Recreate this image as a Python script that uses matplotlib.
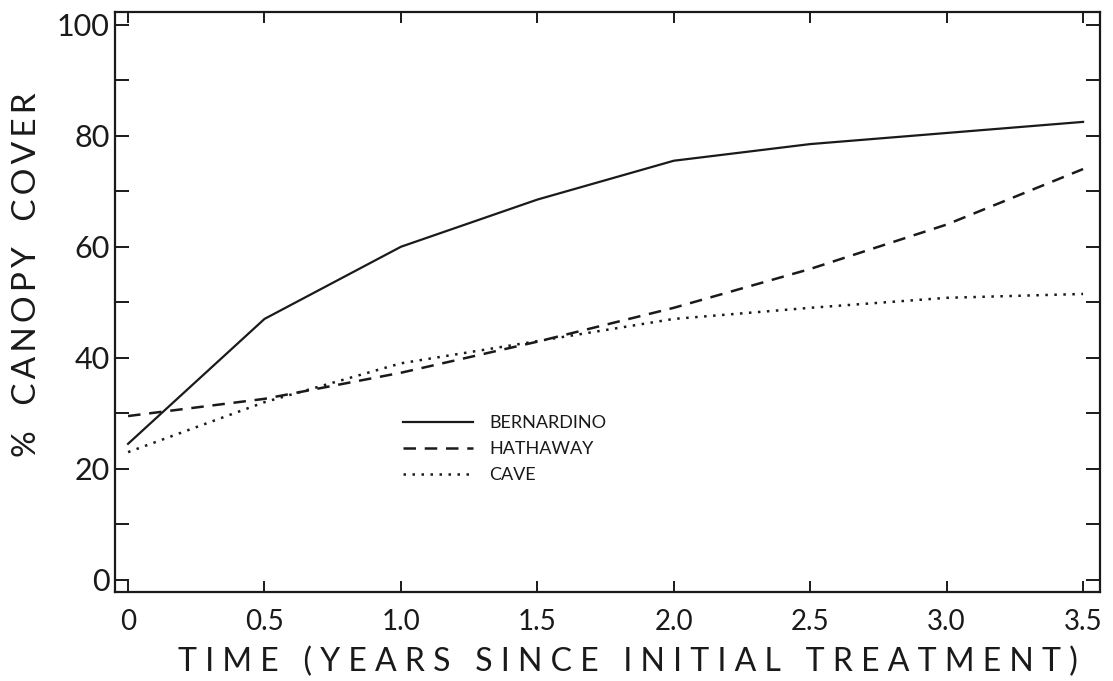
import matplotlib
matplotlib.use("Agg")
import matplotlib.pyplot as plt
from matplotlib.ticker import MultipleLocator

# data
years = [0, 0.5, 1.0, 1.5, 2.0, 2.5, 3.0, 3.5]
bernardino = [24.5, 47, 60, 68.5, 75.5, 78.5, 80.5, 82.5]
hathaway = [29.5, 32.6, 37.3, 42.9, 49, 56, 64, 74]
cave = [23, 32, 39, 43, 47, 49, 50.8, 51.5]

series_names = ["BERNARDINO", "HATHAWAY", "CAVE"]
x_ticks = [0, 0.5, 1.0, 1.5, 2.0, 2.5, 3.0, 3.5]
x_tick_labels = ["0", "0.5", "1.0", "1.5", "2.0", "2.5", "3.0", "3.5"]
y_ticks = [0, 20, 40, 60, 80, 100]


def spaced(s, gap="\u2009", wordgap="   "):
    # stencil lettering on the original is widely tracked
    return wordgap.join(gap.join(w) for w in s.split(" "))


plt.rcParams['font.family'] = ['Lato', 'DejaVu Sans']

fig = plt.figure(figsize=(11.13, 6.81), dpi=100)
ax = fig.add_axes([0.1033, 0.1307, 0.885, 0.8517])

ink = "#1a1a1a"
ax.plot(years, bernardino, color=ink, lw=1.6, label=series_names[0])
ax.plot(years, hathaway, color=ink, lw=1.8, linestyle=(0, (5, 3.5)), label=series_names[1])
ax.plot(years, cave, color=ink, lw=1.8, linestyle=(0, (1.0, 2.6)), label=series_names[2])

ax.set_xlim(-0.048, 3.562)
ax.set_ylim(-2.2, 102.3)

ax.set_xticks(x_ticks)
ax.set_xticklabels(x_tick_labels)
ax.set_yticks(y_ticks)
ax.yaxis.set_minor_locator(MultipleLocator(10))

ax.tick_params(axis="both", which="both", direction="in", width=1.4, color=ink,
               top=True, right=True)
ax.tick_params(axis="y", which="both", length=10, labelsize=22, pad=4, labelcolor=ink)
ax.tick_params(axis="x", which="major", length=8, labelsize=20, pad=12, labelcolor=ink)

for sp in ax.spines.values():
    sp.set_linewidth(1.6)
    sp.set_color(ink)

ax.set_ylabel(spaced("% CANOPY COVER"), fontsize=24, color=ink, va="center")
ax.yaxis.set_label_coords(-0.089, 0.547)
ax.set_xlabel(spaced("TIME (YEARS SINCE INITIAL TREATMENT)", gap=" ", wordgap="   "),
              fontsize=23, color=ink, va="center")
ax.xaxis.set_label_coords(0.521, -0.121)

leg = ax.legend(loc="upper left", bbox_to_anchor=(0.292, 0.305), frameon=False,
                fontsize=13, handlelength=3.9, handletextpad=0.9, labelspacing=0.55,
                borderpad=0, borderaxespad=0)
for t in leg.get_texts():
    t.set_color(ink)

fig.savefig("out.png", dpi=100)
